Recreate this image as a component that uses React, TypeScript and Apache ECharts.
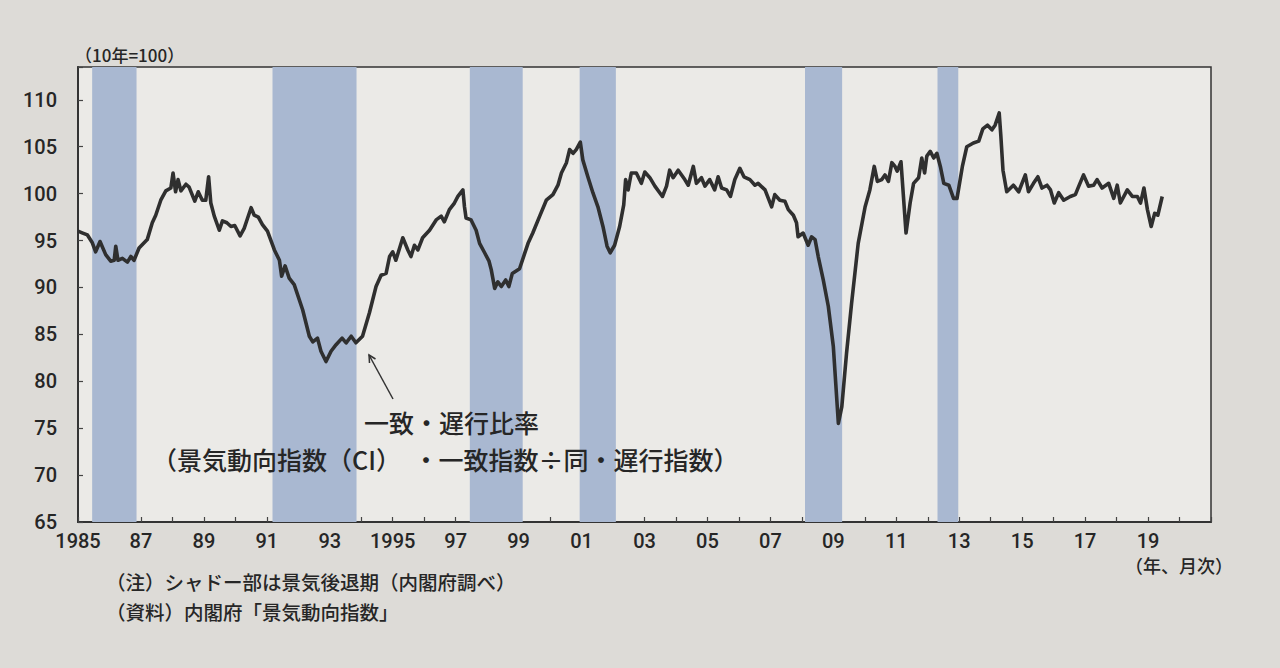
import React, { useEffect, useRef } from "react";
import * as echarts from "echarts";

// Decimal year of each reading (monthly series)
const dates = [
  1985.0, 1985.15, 1985.3, 1985.45, 1985.56, 1985.7, 1985.88, 1986.04, 1986.15, 1986.2,
  1986.27, 1986.41, 1986.57, 1986.68, 1986.78, 1986.94, 1987.2, 1987.36, 1987.47, 1987.63,
  1987.79, 1987.95, 1988.02, 1988.1, 1988.18, 1988.27, 1988.43, 1988.53, 1988.71, 1988.82,
  1988.95, 1989.06, 1989.15, 1989.22, 1989.33, 1989.49, 1989.59, 1989.73, 1989.86, 1989.98,
  1990.15, 1990.28, 1990.39, 1990.5, 1990.6, 1990.73, 1990.86, 1991.02, 1991.24, 1991.4,
  1991.47, 1991.58, 1991.71, 1991.87, 1992.14, 1992.35, 1992.46, 1992.61, 1992.72, 1992.88,
  1993.04, 1993.2, 1993.39, 1993.52, 1993.68, 1993.83, 1994.04, 1994.26, 1994.47, 1994.63,
  1994.79, 1994.9, 1995.0, 1995.1, 1995.32, 1995.48, 1995.58, 1995.69, 1995.8, 1995.95,
  1996.17, 1996.38, 1996.54, 1996.64, 1996.8, 1996.96, 1997.07, 1997.23, 1997.28, 1997.33,
  1997.49, 1997.65, 1997.76, 1997.92, 1998.06, 1998.13, 1998.24, 1998.34, 1998.45, 1998.59,
  1998.69, 1998.8, 1999.03, 1999.19, 1999.3, 1999.45, 1999.67, 1999.88, 2000.09, 2000.25,
  2000.36, 2000.52, 2000.62, 2000.73, 2000.83, 2000.96, 2001.04, 2001.2, 2001.36, 2001.52,
  2001.68, 2001.81, 2001.91, 2002.05, 2002.21, 2002.34, 2002.4, 2002.48, 2002.58, 2002.74,
  2002.9, 2003.01, 2003.17, 2003.33, 2003.57, 2003.7, 2003.8, 2003.91, 2004.07, 2004.28,
  2004.39, 2004.55, 2004.65, 2004.81, 2004.92, 2005.07, 2005.23, 2005.34, 2005.45, 2005.61,
  2005.73, 2005.87, 2006.03, 2006.16, 2006.35, 2006.51, 2006.61, 2006.83, 2007.04, 2007.14,
  2007.3, 2007.46, 2007.57, 2007.73, 2007.83, 2007.88, 2008.04, 2008.2, 2008.31, 2008.42,
  2008.52, 2008.68, 2008.84, 2009.0, 2009.16, 2009.27, 2009.42, 2009.58, 2009.79, 2010.01,
  2010.16, 2010.3, 2010.4, 2010.54, 2010.64, 2010.75, 2010.86, 2010.96, 2011.03, 2011.15,
  2011.31, 2011.44, 2011.55, 2011.71, 2011.81, 2011.9, 2011.97, 2012.08, 2012.19, 2012.29,
  2012.4, 2012.51, 2012.67, 2012.82, 2012.93, 2013.1, 2013.24, 2013.45, 2013.62, 2013.75,
  2013.9, 2014.04, 2014.14, 2014.27, 2014.32, 2014.39, 2014.51, 2014.72, 2014.89, 2015.1,
  2015.2, 2015.36, 2015.5, 2015.63, 2015.79, 2015.9, 2016.02, 2016.16, 2016.32, 2016.53,
  2016.69, 2016.8, 2016.95, 2017.11, 2017.27, 2017.38, 2017.54, 2017.75, 2017.91, 2018.02,
  2018.12, 2018.34, 2018.5, 2018.66, 2018.76, 2018.87, 2018.98, 2019.1, 2019.21, 2019.31,
  2019.45,
];

// 一致・遅行比率 (10年=100)
const values = [
  96.0, 95.8, 95.6, 94.8, 93.8, 94.9, 93.5, 92.8, 92.9, 94.4,
  92.9, 93.1, 92.7, 93.3, 92.9, 94.2, 95.1, 96.9, 97.7, 99.3,
  100.3, 100.6, 102.2, 100.2, 101.5, 100.3, 101.0, 100.7, 99.2, 100.2,
  99.3, 99.3, 101.8, 99.0, 97.6, 96.1, 97.1, 96.9, 96.5, 96.6,
  95.5, 96.3, 97.4, 98.5, 97.7, 97.5, 96.7, 96.0, 94.0, 92.9,
  91.2, 92.3, 91.0, 90.3, 87.6, 84.8, 84.2, 84.6, 83.2, 82.1,
  83.2, 83.9, 84.6, 84.1, 84.8, 84.1, 84.8, 87.3, 90.1, 91.3,
  91.5, 93.3, 93.8, 92.9, 95.3, 94.0, 93.3, 94.5, 94.0, 95.3,
  96.1, 97.2, 97.6, 97.0, 98.3, 99.0, 99.7, 100.4, 98.6, 97.4,
  97.2, 96.1, 94.7, 93.7, 92.8, 91.9, 89.9, 90.6, 90.1, 90.8,
  90.1, 91.5, 92.0, 93.6, 94.7, 95.8, 97.6, 99.3, 99.9, 100.9,
  102.2, 103.3, 104.7, 104.3, 104.7, 105.5, 103.6, 101.8, 100.1, 98.6,
  96.5, 94.4, 93.7, 94.5, 96.5, 98.8, 101.5, 100.4, 102.2, 102.2,
  101.1, 102.3, 101.7, 100.8, 99.7, 100.8, 102.5, 101.7, 102.5, 101.5,
  100.9, 102.9, 101.1, 101.7, 100.8, 101.5, 100.4, 101.8, 100.6, 100.4,
  99.7, 101.5, 102.7, 101.8, 101.5, 100.9, 101.1, 100.4, 98.6, 99.9,
  99.3, 99.2, 98.3, 97.7, 96.9, 95.4, 95.8, 94.5, 95.4, 95.1,
  93.3, 90.8, 88.0, 83.7, 75.5, 77.3, 83.0, 88.3, 94.7, 98.6,
  100.4, 102.9, 101.3, 101.5, 102.0, 101.3, 103.3, 102.9, 102.4, 103.4,
  95.8, 99.0, 101.1, 101.7, 103.8, 102.2, 104.0, 104.5, 103.8, 104.3,
  102.9, 101.1, 100.9, 99.5, 99.5, 102.9, 105.0, 105.4, 105.6, 106.9,
  107.3, 106.8, 107.3, 108.6, 106.3, 102.5, 100.2, 100.9, 100.2, 102.0,
  100.2, 101.1, 101.8, 100.6, 100.9, 100.4, 99.0, 100.1, 99.3, 99.7,
  99.9, 100.8, 102.0, 100.8, 100.9, 101.5, 100.6, 101.1, 99.5, 100.9,
  99.0, 100.4, 99.7, 99.7, 99.0, 100.6, 98.3, 96.5, 97.9, 97.7,
  99.7,
];

// 景気後退期 (shaded periods), decimal years
const recessionStart = [1985.45, 1991.18, 1997.45, 2000.94, 2008.1, 2012.31];
const recessionEnd = [1986.86, 1993.85, 1999.13, 2002.09, 2009.28, 2012.97];

const xMin = 1985;
const xMax = 2021;
const lastYearLabel = 2019;
const yMin = 65;
const yMax = 113.5;
const yStep = 5;

const unitLabel = "（10年=100）";
const xUnitLabel = "（年、月次）";
const seriesTitle = "一致・遅行比率";
const seriesSubtitle = "（景気動向指数（CI）\u2002・一致指数÷同・遅行指数）";
const noteLabel = "（注）シャドー部は景気後退期（内閣府調べ）";
const sourceLabel = "（資料）内閣府「景気動向指数」";

const INK = "#262626";
const NUM_FONT = "Roboto, 'Liberation Sans', Arial, sans-serif";
const JP_FONT = "'Noto Sans CJK JP', 'Noto Sans', sans-serif";

function yearLabel(v: number): string {
  if (v % 2 === 0 || v > lastYearLabel) return "";
  if (v === 1985 || v === 1995) return String(v);
  const short = String(v % 100).padStart(2, "0");
  if (v === lastYearLabel) return `{y|${short}}\n{u|${xUnitLabel}}`;
  return short;
}

export default function App() {
  const ref = useRef<HTMLDivElement>(null);

  useEffect(() => {
    if (!ref.current) return;
    const chart = echarts.init(ref.current, undefined, { renderer: "svg" });

    const lineData = dates.map((d, i) => [d, values[i]]);
    const areas = recessionStart.map((s, i) => [{ xAxis: s }, { xAxis: recessionEnd[i] }]);

    const txt = (text: string, left: number, top: number, size: number) => ({
      type: "text",
      left,
      top,
      z: 100,
      style: {
        text,
        fill: INK,
        font: `500 ${size}px ${JP_FONT}`,
        lineHeight: size,
      },
    });

    chart.setOption({
      animation: false,
      backgroundColor: "#dddbd7",
      grid: {
        left: 78,
        right: 69,
        top: 67,
        bottom: 146,
        show: true,
        backgroundColor: "#ebeae7",
        borderColor: "#333",
        borderWidth: 1.5,
      },
      xAxis: {
        type: "value",
        min: xMin,
        max: xMax,
        interval: 1,
        splitLine: { show: false },
        axisLine: { show: true, lineStyle: { color: "#333", width: 2 } },
        axisTick: { show: true, inside: true, length: 5, lineStyle: { color: "#444", width: 1.2 } },
        axisLabel: {
          formatter: (v: number) => yearLabel(v),
          color: INK,
          fontFamily: NUM_FONT,
          fontWeight: 500,
          fontSize: 20,
          lineHeight: 20,
          margin: 9,
          showMinLabel: true,
          showMaxLabel: true,
          hideOverlap: false,
          rich: {
            y: {
              fontFamily: NUM_FONT,
              fontWeight: 500,
              fontSize: 20,
              lineHeight: 20,
              color: INK,
            },
            u: {
              fontFamily: JP_FONT,
              fontWeight: 500,
              fontSize: 18,
              lineHeight: 28,
              color: INK,
              padding: [0, 0, 0, 62],
            },
          },
        },
      },
      yAxis: {
        type: "value",
        min: yMin,
        max: yMax,
        interval: yStep,
        splitLine: { show: false },
        axisLine: { show: true, lineStyle: { color: "#333", width: 2 } },
        axisTick: { show: true, inside: true, length: 5, lineStyle: { color: "#444", width: 1.2 } },
        axisLabel: {
          formatter: (v: number) => (v % yStep === 0 ? String(v) : ""),
          color: INK,
          fontFamily: NUM_FONT,
          fontWeight: 500,
          fontSize: 20,
          margin: 21,
        },
      },
      series: [
        {
          type: "line",
          name: "shade",
          data: [],
          z: 1,
          silent: true,
          markArea: {
            silent: true,
            itemStyle: { color: "#a9b8d1", opacity: 1 },
            data: areas,
          },
        },
        {
          type: "line",
          name: seriesTitle,
          data: lineData,
          z: 5,
          showSymbol: false,
          symbol: "none",
          lineStyle: { color: "#2f2f2f", width: 3.6, join: "round" },
        },
      ],
      graphic: [
        txt(unitLabel, 75, 46, 17),
        {
          type: "text",
          left: 152,
          top: 409,
          z: 100,
          style: {
            text: `{a|${seriesTitle}}\n{b|${seriesSubtitle}}`,
            fill: INK,
            font: `500 25px ${JP_FONT}`,
            rich: {
              a: {
                font: `500 25px ${JP_FONT}`,
                fill: INK,
                lineHeight: 37,
                padding: [0, 0, 0, 212],
              },
              b: {
                font: `500 25px ${JP_FONT}`,
                fill: INK,
                lineHeight: 37,
              },
            },
          },
        },
        {
          type: "line",
          z: 100,
          shape: { x1: 393, y1: 399, x2: 369, y2: 355 },
          style: { stroke: "#333", lineWidth: 1.5 },
        },
        {
          type: "polyline",
          z: 100,
          shape: { points: [[369.5, 363], [369, 355], [375.5, 359]] },
          style: { stroke: "#333", lineWidth: 1.5, fill: "none" },
        },
        txt(noteLabel, 106, 572, 19.5),
        txt(sourceLabel, 106, 602, 19.5),
      ],
    });

    return () => chart.dispose();
  }, []);

  return (
    <div
      ref={ref}
      style={{ position: "fixed", left: 0, top: 0, width: 1280, height: 668 }}
    />
  );
}
